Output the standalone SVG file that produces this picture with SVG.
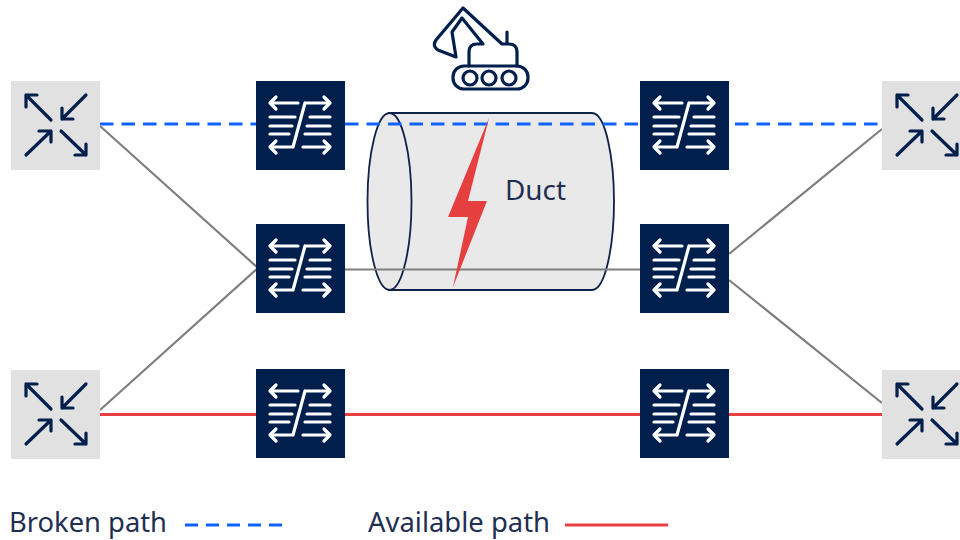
<svg xmlns="http://www.w3.org/2000/svg" width="960" height="540" viewBox="0 0 960 540">
<style>
text{font-family:"Noto Sans","Open Sans",sans-serif;font-size:27px;fill:#1f2f52}
.ic{fill:none;stroke:#001f4d;stroke-width:3.200;stroke-linecap:round;stroke-linejoin:round}
.w{fill:none;stroke:#fff;stroke-width:3.200;stroke-linecap:round;stroke-linejoin:round}
.g{stroke:#7f7f7f;stroke-width:2.200;fill:none}
.r{stroke:#e84040;stroke-width:3;fill:none}
.b{stroke:#1062fe;stroke-width:3;fill:none;stroke-dasharray:13.500 8}
.t{fill:#e1e1e1}
.s{fill:#001f4d}
</style>
<defs>
<g id="router"><rect class="t" width="89" height="89"/><path class="ic" d="M40 39L15 14M15 26V14H26M75 14L51 38M51 27V38H62M15 74L40 50M28 50H40V61M50 50L75 74M75 63V74H64"/></g>
<g id="switch"><rect class="s" width="89" height="89"/><path class="w" d="M14 22H42M20 16L14 22L20 28M49 22H74M68 16L74 22L68 28M14 66H37L49 22M20 60L14 66L20 72M47 66H74M68 60L74 66L68 72M14 36H39M14 45H36M14 53H33M54 36H74M51 45H74M49 53H74"/></g>
</defs>
<g id="duct">
<path d="M389 113H592C606 113 614 160 614 201.500S606 290 592 290H389Z" fill="#e9e9e9" stroke="#0f2247" stroke-width="1.800"/>
<ellipse cx="389.500" cy="201.500" rx="22" ry="88.500" fill="#e9e9e9" stroke="#0f2247" stroke-width="1.800"/>
</g>
<g id="connectors">
<path class="b" d="M100 124H256M345 124H640M735 124H882"/>
<path class="g" d="M100 126L258 268M100 410L258 268M345 269.500H640M729 254L882 129M729 280L882 403"/>
<path class="r" d="M100 414.500H882"/>
</g>
<g id="bolt"><path d="M489 118L448 217H468L453 287L487 201H468Z" fill="#e63f3f"/></g>
<text id="duct-label" x="505" y="200" textLength="61" lengthAdjust="spacingAndGlyphs">Duct</text>
<g id="r1" transform="translate(11 81)"><use href="#router"/></g>
<g id="r2" transform="translate(11 370)"><use href="#router"/></g>
<g id="r3" transform="translate(882 81)"><use href="#router"/></g>
<g id="r4" transform="translate(882 370)"><use href="#router"/></g>
<g id="s1" transform="translate(256 81)"><use href="#switch"/></g>
<g id="s2" transform="translate(256 224)"><use href="#switch"/></g>
<g id="s3" transform="translate(256 369)"><use href="#switch"/></g>
<g id="s4" transform="translate(640 81)"><use href="#switch"/></g>
<g id="s5" transform="translate(640 224)"><use href="#switch"/></g>
<g id="s6" transform="translate(640 369)"><use href="#switch"/></g>
<g id="excavator"><path class="ic" d="M469 66V52Q469 44 477 44H483L462 18L452 32L456 57L438 50Q432 46 436 40L463 8L502 44H509Q517 44 517 52V66M507 32V44"/><rect class="ic" x="453" y="66" width="75" height="23" rx="11"/><circle class="ic" cx="470" cy="78" r="7"/><circle class="ic" cx="489" cy="78" r="7"/><circle class="ic" cx="509" cy="78" r="7"/></g>
<g id="legend">
<text x="9" y="531.500" textLength="158" lengthAdjust="spacingAndGlyphs">Broken path</text>
<path d="M185 525H285" stroke="#1062fe" stroke-width="3" stroke-dasharray="13 8" fill="none"/>
<text x="368" y="531.500" textLength="182" lengthAdjust="spacingAndGlyphs">Available path</text>
<path class="r" d="M565 525H668"/>
</g>
</svg>
